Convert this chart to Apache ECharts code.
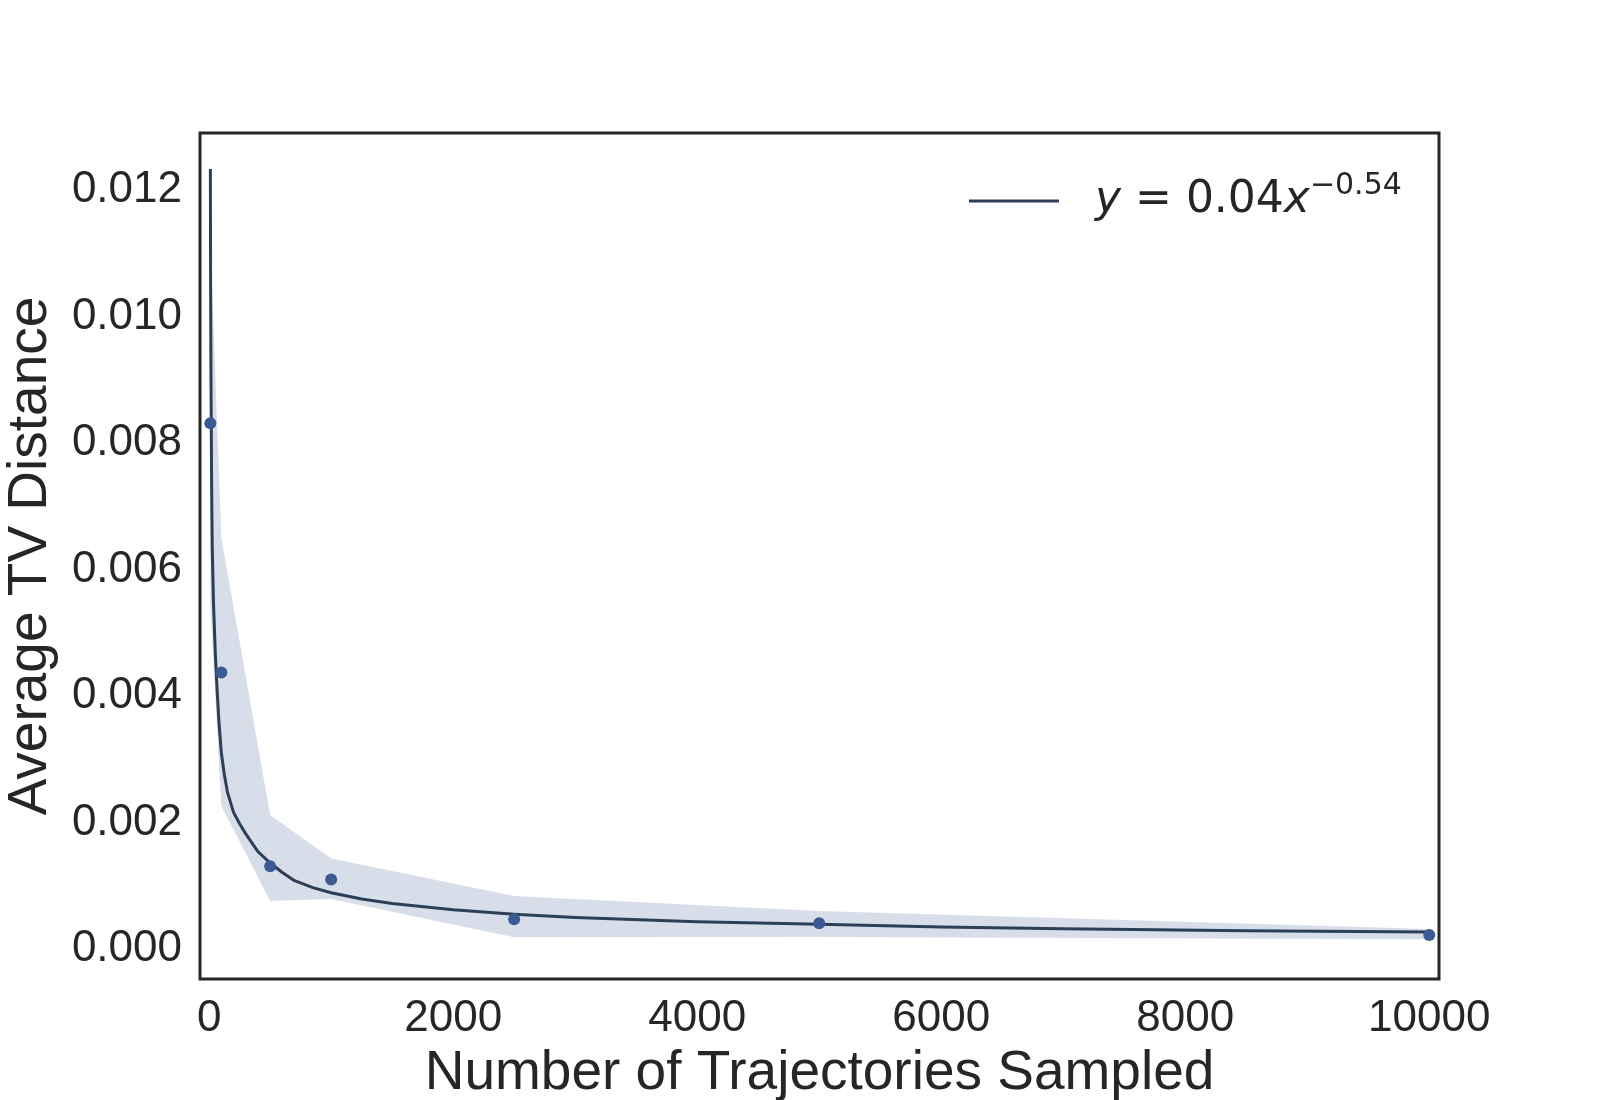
<!DOCTYPE html>
<html>
<head>
<meta charset="utf-8">
<script src="https://cdn.jsdelivr.net/npm/echarts@6/dist/echarts.min.js"></script>
<style>
  html, body { margin: 0; padding: 0; background: #ffffff; }
  #chart { width: 1600px; height: 1100px; }
</style>
</head>
<body>
<div id="chart"></div>
<script>
// ---- data ----
const sampleX = [10, 100, 500, 1000, 2500, 5000, 10000];
const meanTV  = [0.00831, 0.00437, 0.00131, 0.00110, 0.00047, 0.000406, 0.000221];
const bandUpper = [0.01118, 0.00650, 0.00212, 0.00143, 0.00084, 0.000601, 0.000316];
const bandLower = [0.00544, 0.00226, 0.000759, 0.00079, 0.000185, 0.00019, 0.000153];

const fitX = [10, 12, 15, 20, 25, 35, 50, 65, 80, 100, 125, 150, 200, 250, 300, 400, 500, 600, 700, 850, 1000, 1250, 1500, 2000, 2500, 3000, 4000, 5000, 6000, 7000, 8500, 10000];
const fitY = [0.01233, 0.0105, 0.0090, 0.0074, 0.0064, 0.0055, 0.0047, 0.0041, 0.0036, 0.0031, 0.00275, 0.00248, 0.00216, 0.00198, 0.00182, 0.00154, 0.00136, 0.00121, 0.00108, 0.00097, 0.00089, 0.00079, 0.00072, 0.00062, 0.00055, 0.00050, 0.00043, 0.00039, 0.00035, 0.00032, 0.00029, 0.00027];

const xTicks = [0, 2000, 4000, 6000, 8000, 10000];
const yTicks = [0, 0.002, 0.004, 0.006, 0.008, 0.010, 0.012];

// ---- chart ----
const textColor = '#262626';
const pointColor = '#3b5993';
const lineColor = '#2c3f57';
const tickFont = "'Liberation Sans', Arial, sans-serif";

const bandData = sampleX.map((x, i) => [x, bandLower[i], bandUpper[i]]);

const chart = echarts.init(document.getElementById('chart'), null, { renderer: 'canvas' });

chart.setOption({
  backgroundColor: '#ffffff',
  animation: false,
  grid: {
    left: 200, right: 161, top: 133, bottom: 121,
    outerBoundsMode: 'none',
    containLabel: false,
    show: true, borderColor: textColor, borderWidth: 3, backgroundColor: 'transparent'
  },
  legend: {
    data: ['fit'],
    left: 969, top: 171, padding: 0,
    icon: 'rect',
    itemWidth: 90, itemHeight: 3,
    itemStyle: { color: lineColor, borderWidth: 0 },
    formatter: function () {
      return '{sp|}{i|y}{n| = 0.04}{i|x}{sup|\u22120.54}';
    },
    textStyle: {
      color: textColor,
      rich: {
        sp: { width: 31 },
        n: { fontFamily: "'DejaVu Sans'", fontSize: 44, lineHeight: 60, color: textColor },
        i: { fontFamily: "'DejaVu Sans'", fontStyle: 'italic', fontSize: 44, lineHeight: 60, color: textColor },
        sup: { fontFamily: "'DejaVu Sans'", fontSize: 30, lineHeight: 30, verticalAlign: 'top', color: textColor }
      }
    }
  },
  xAxis: {
    type: 'value',
    min: -75, max: 10080,
    name: 'Number of Trajectories Sampled',
    nameLocation: 'middle',
    nameGap: 65,
    nameTextStyle: { fontFamily: tickFont, fontSize: 55, color: textColor },
    axisLine: { show: false },
    axisTick: { show: false },
    splitLine: { show: false },
    axisLabel: {
      customValues: xTicks,
      fontFamily: tickFont, fontSize: 44, color: textColor, margin: 18,
      formatter: v => String(v)
    }
  },
  yAxis: {
    type: 'value',
    min: -0.000474, max: 0.0129,
    name: 'Average TV Distance',
    nameLocation: 'middle',
    nameGap: 142,
    nameTextStyle: { fontFamily: tickFont, fontSize: 55, color: textColor },
    axisLine: { show: false },
    axisTick: { show: false },
    splitLine: { show: false },
    axisLabel: {
      customValues: yTicks,
      fontFamily: tickFont, fontSize: 44, color: textColor, margin: 18,
      padding: [6, 0, 0, 0],
      formatter: v => v.toFixed(3)
    }
  },
  series: [
    {
      name: 'band',
      type: 'custom',
      data: bandData,
      encode: { x: 0, y: [1, 2] },
      silent: true,
      z: 1,
      renderItem: function (params, api) {
        if (params.dataIndex !== 0) return null;
        const pts = [];
        for (let i = 0; i < bandData.length; i++) pts.push(api.coord([bandData[i][0], bandData[i][2]]));
        for (let i = bandData.length - 1; i >= 0; i--) pts.push(api.coord([bandData[i][0], bandData[i][1]]));
        return {
          type: 'polygon',
          shape: { points: pts },
          style: { fill: 'rgba(59,89,147,0.2)', stroke: 'none' }
        };
      }
    },
    {
      name: 'fit',
      type: 'line',
      data: fitX.map((x, i) => [x, fitY[i]]),
      smooth: false,
      symbol: 'none',
      showSymbol: false,
      lineStyle: { color: lineColor, width: 3, join: 'round' },
      itemStyle: { color: lineColor },
      z: 3
    },
    {
      name: 'points',
      type: 'scatter',
      data: sampleX.map((x, i) => [x, meanTV[i]]),
      symbol: 'circle',
      symbolSize: 12,
      itemStyle: { color: pointColor, opacity: 1 },
      z: 4
    }
  ]
});
</script>
</body>
</html>
